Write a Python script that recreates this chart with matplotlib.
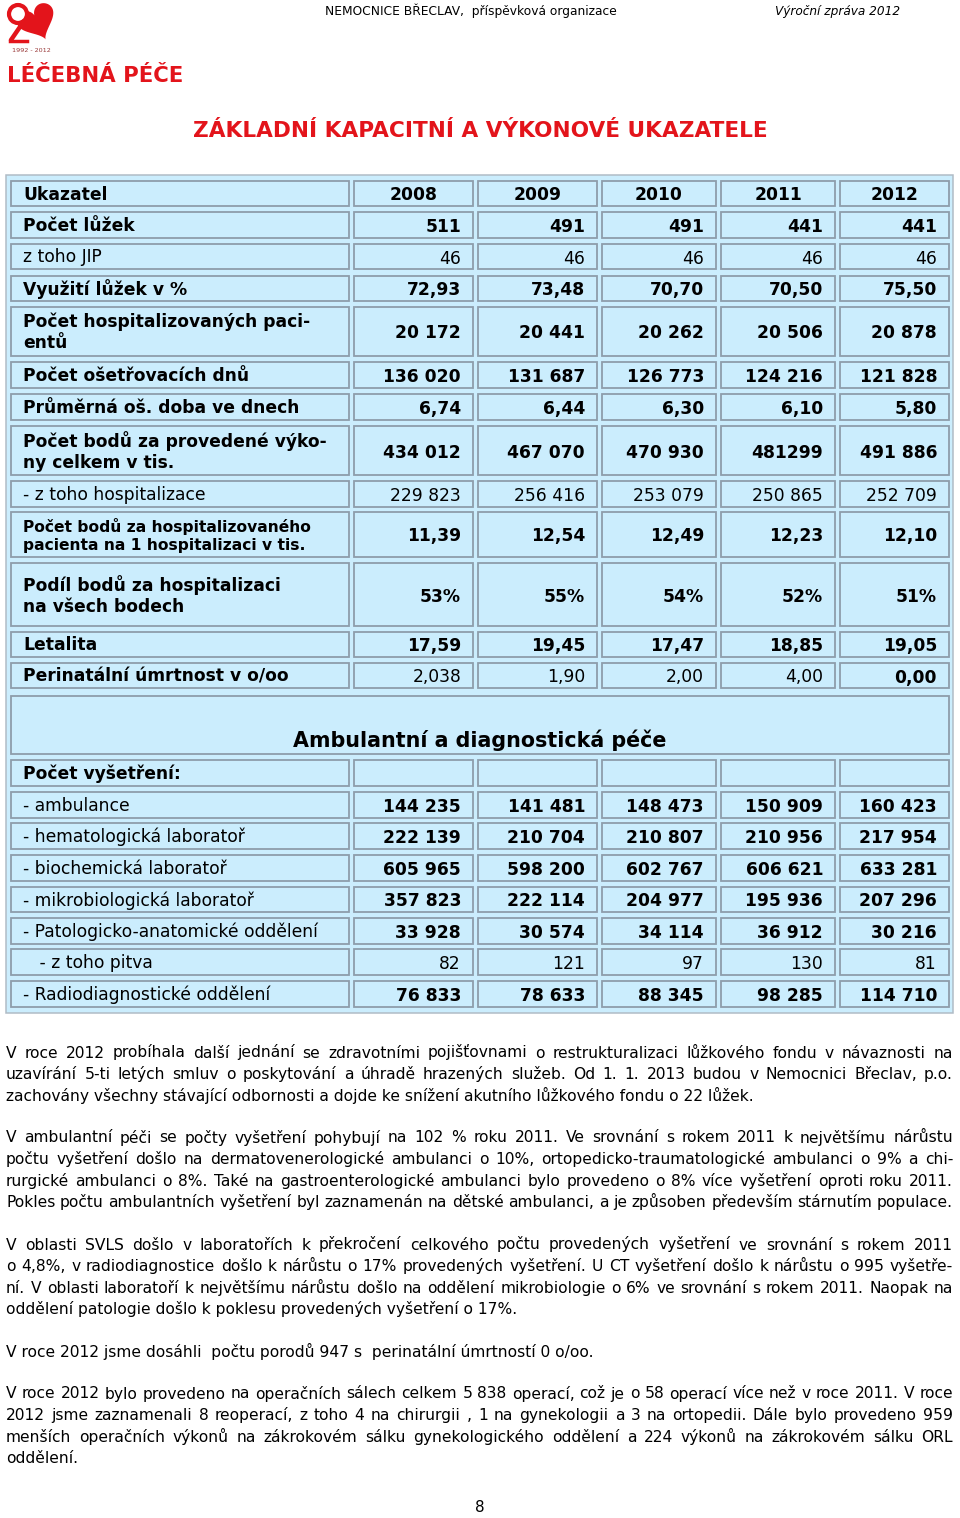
import numpy as np
import matplotlib.pyplot as plt
from matplotlib.patches import Rectangle, Polygon, Circle

plt.rcParams['font.family'] = ['DejaVu Sans']

# ---- data ----
years = ['2008', '2009', '2010', '2011', '2012']

luzka = ['511', '491', '491', '441', '441']
jip = ['46', '46', '46', '46', '46']
vyuziti = ['72,93', '73,48', '70,70', '70,50', '75,50']
hosp_pacienti = ['20 172', '20 441', '20 262', '20 506', '20 878']
osetrovaci_dny = ['136 020', '131 687', '126 773', '124 216', '121 828']
prumerna_doba = ['6,74', '6,44', '6,30', '6,10', '5,80']
body_celkem = ['434 012', '467 070', '470 930', '481299', '491 886']
body_hosp = ['229 823', '256 416', '253 079', '250 865', '252 709']
body_na_pacienta = ['11,39', '12,54', '12,49', '12,23', '12,10']
podil_bodu = ['53%', '55%', '54%', '52%', '51%']
letalita = ['17,59', '19,45', '17,47', '18,85', '19,05']
perinatalni = ['2,038', '1,90', '2,00', '4,00', '0,00']

ambulance = ['144 235', '141 481', '148 473', '150 909', '160 423']
hematologie = ['222 139', '210 704', '210 807', '210 956', '217 954']
biochemie = ['605 965', '598 200', '602 767', '606 621', '633 281']
mikrobiologie = ['357 823', '222 114', '204 977', '195 936', '207 296']
patologie = ['33 928', '30 574', '34 114', '36 912', '30 216']
pitva = ['82', '121', '97', '130', '81']
radiodiagnostika = ['76 833', '78 633', '88 345', '98 285', '114 710']

# label, values, label bold, values bold
rows = [
    ('Ukazatel', years, True, True),
    ('Počet lůžek', luzka, True, True),
    ('z toho JIP', jip, False, False),
    ('Využití lůžek v %', vyuziti, True, True),
    ('Počet hospitalizovaných paci-\nentů', hosp_pacienti, True, True),
    ('Počet ošetřovacích dnů', osetrovaci_dny, True, True),
    ('Průměrná oš. doba ve dnech', prumerna_doba, True, True),
    ('Počet bodů za provedené výko-\nny celkem v tis.', body_celkem, True, True),
    ('- z toho hospitalizace', body_hosp, False, False),
    ('Počet bodů za hospitalizovaného\npacienta na 1 hospitalizaci v tis.', body_na_pacienta, True, True),
    ('Podíl bodů za hospitalizaci\nna všech bodech', podil_bodu, True, True),
    ('Letalita', letalita, True, True),
    ('Perinatální úmrtnost v o/oo', perinatalni, True, [False, False, False, False, True]),
    ('Počet vyšetření:', ['', '', '', '', ''], True, True),
    ('- ambulance', ambulance, False, True),
    ('- hematologická laboratoř', hematologie, False, True),
    ('- biochemická laboratoř', biochemie, False, True),
    ('- mikrobiologická laboratoř', mikrobiologie, False, True),
    ('- Patologicko-anatomické oddělení', patologie, False, True),
    ('   - z toho pitva', pitva, False, False),
    ('- Radiodiagnostické oddělení', radiodiagnostika, False, True),
]

# ---- layout (pixels) ----
row_y = [(181, 206), (212, 238), (244, 269), (276, 301), (307, 356), (362, 388),
         (394, 420), (426, 475), (481, 507), (512, 557), (563, 626), (632, 657),
         (663, 688), (760, 786), (792, 818), (823, 849), (855, 881), (887, 912),
         (918, 944), (949, 975), (981, 1007)]
label_x = (11, 349)
col_x = [(354, 473), (478, 597), (602, 716), (721, 835), (840, 949)]

cell_fc = '#cbedfd'
cell_ec = '#8d9dab'
red = '#e3141b'
fs = 12.3

fig = plt.figure(figsize=(9.6, 15.18), dpi=100)
ax = fig.add_axes([0, 0, 1, 1])
ax.set_xlim(0, 960)
ax.set_ylim(1518, 0)
ax.axis('off')


def cell(x0, x1, y0, y1):
    ax.add_patch(Rectangle((x0, y0), x1 - x0, y1 - y0, facecolor=cell_fc,
                           edgecolor=cell_ec, lw=1.3))


# outer table
ax.add_patch(Rectangle((6, 175), 947, 838, facecolor=cell_fc, edgecolor='#b0bcc6', lw=1.1))

for i, (label, vals, lb, vb) in enumerate(rows):
    y0, y1 = row_y[i]
    yc = (y0 + y1) / 2
    cell(label_x[0], label_x[1], y0, y1)
    lfs = 11.2 if label.startswith('Počet bodů za hosp') else fs
    ax.text(label_x[0] + 12, yc + 1, label, fontsize=lfs, va='center', ha='left',
            fontweight='bold' if lb else 'normal', linespacing=1.25)
    for j, v in enumerate(vals):
        cx0, cx1 = col_x[j]
        cell(cx0, cx1, y0, y1)
        bold = vb[j] if isinstance(vb, list) else vb
        if i == 0:
            ax.text((cx0 + cx1) / 2, yc + 1, v, fontsize=fs, va='center', ha='center',
                    fontweight='bold')
        else:
            ax.text(cx1 - 12, yc + 2, v, fontsize=fs, va='center', ha='right',
                    fontweight='bold' if bold else 'normal')

# section header cell
cell(11, 949, 696, 754)
ax.text(480, 740, 'Ambulantní a diagnostická péče', fontsize=14.9, fontweight='bold',
        ha='center', va='center')

# ---- page header ----
ax.text(471, 11, 'NEMOCNICE BŘECLAV,  příspěvková organizace', fontsize=8.85,
        ha='center', va='center')
ax.text(838, 11, 'Výroční zpráva 2012', fontsize=8.75, style='italic',
        ha='center', va='center')

# logo
t = np.linspace(0, 2 * np.pi, 200)
hx = 16 * np.sin(t) ** 3
hy = 13 * np.cos(t) - 5 * np.cos(2 * t) - 2 * np.cos(3 * t) - np.cos(4 * t)
ang = np.deg2rad(25)
rx = hx * np.cos(ang) - hy * np.sin(ang)
ry = hx * np.sin(ang) + hy * np.cos(ang)
ax.add_patch(Polygon(np.column_stack([37 + 1.2 * rx, 21 - 1.2 * ry]), closed=True,
                     facecolor=red, edgecolor='none'))
ax.add_patch(Circle((18, 14), 9.0, facecolor='white', edgecolor=red, lw=3))
ax.plot([24, 11], [21, 40], color=red, lw=3.2, solid_capstyle='round')
ax.plot([10, 27], [41, 41], color=red, lw=2.5)
ax.text(31, 50, '1992 - 2012', fontsize=4.6, color='#9a3a3a', ha='center', va='center')

ax.text(7, 76, 'LÉČEBNÁ PÉČE', fontsize=15.3, fontweight='bold', color=red,
        ha='left', va='center')
ax.text(480, 131, 'ZÁKLADNÍ KAPACITNÍ A VÝKONOVÉ UKAZATELE', fontsize=15.6,
        fontweight='bold', color=red, ha='center', va='center')

# ---- paragraphs ----
paragraphs = [
    (1052, ['V roce 2012 probíhala další jednání se zdravotními pojišťovnami o restrukturalizaci lůžkového fondu v návaznosti na',
            'uzavírání 5-ti letých smluv o poskytování a úhradě hrazených služeb.  Od 1. 1. 2013 budou v Nemocnici Břeclav, p.o.',
            'zachovány všechny stávající odbornosti a dojde ke snížení akutního lůžkového fondu o 22 lůžek.']),
    (1137, ['V ambulantní péči se počty vyšetření pohybují na 102 % roku 2011. Ve srovnání s rokem 2011 k největšímu nárůstu',
            'počtu vyšetření došlo na dermatovenerologické ambulanci  o 10%, ortopedicko-traumatologické ambulanci o 9% a chi-',
            'rurgické ambulanci o 8%. Také na gastroenterologické ambulanci bylo provedeno o 8% více vyšetření oproti roku 2011.',
            'Pokles počtu ambulantních vyšetření byl zaznamenán na dětské ambulanci, a je způsoben především stárnutím populace.']),
    (1244, ['V oblasti SVLS došlo v laboratořích k překročení celkového počtu provedených vyšetření ve srovnání s rokem 2011',
            'o 4,8%, v radiodiagnostice došlo k nárůstu o 17% provedených vyšetření. U CT vyšetření došlo k nárůstu o 995 vyšetře-',
            'ní. V oblasti laboratoří k největšímu nárůstu došlo na oddělení mikrobiologie o 6% ve srovnání s rokem 2011. Naopak na',
            'oddělení patologie došlo k poklesu provedených vyšetření o 17%.']),
    (1351, ['V roce 2012 jsme dosáhli  počtu porodů 947 s  perinatální úmrtností 0 o/oo.']),
    (1393, ['V roce 2012 bylo provedeno na operačních sálech celkem 5 838 operací, což je o 58 operací více než v roce 2011. V roce',
            '2012 jsme zaznamenali 8 reoperací, z toho 4 na chirurgii , 1 na gynekologii a 3 na ortopedii. Dále bylo provedeno 959',
            'menších operačních výkonů na zákrokovém sálku gynekologického oddělení a 224 výkonů na zákrokovém sálku ORL',
            'oddělení.']),
]
justify_last = {1137}
pfs = 11.15
line_h = 21.6
base_off = 5.5   # baseline below the line's middle
x_left, x_right = 6, 953
renderer = fig.canvas.get_renderer()

for y_start, lines in paragraphs:
    for k, line in enumerate(lines):
        y = y_start + k * line_h + base_off
        last = k == len(lines) - 1
        if last and y_start not in justify_last:
            ax.text(x_left, y, line, fontsize=pfs, ha='left', va='baseline')
            continue
        words = line.split()
        texts = [ax.text(x_left, y, w, fontsize=pfs, ha='left', va='baseline') for w in words]
        widths = [tx.get_window_extent(renderer=renderer).width for tx in texts]
        gap = (x_right - x_left - sum(widths)) / (len(words) - 1)
        x = x_left
        for tx, w in zip(texts, widths):
            tx.set_x(x)
            x += w + gap

ax.text(480, 1508, '8', fontsize=11, ha='center', va='center')

fig.savefig('out.png', dpi=100)
